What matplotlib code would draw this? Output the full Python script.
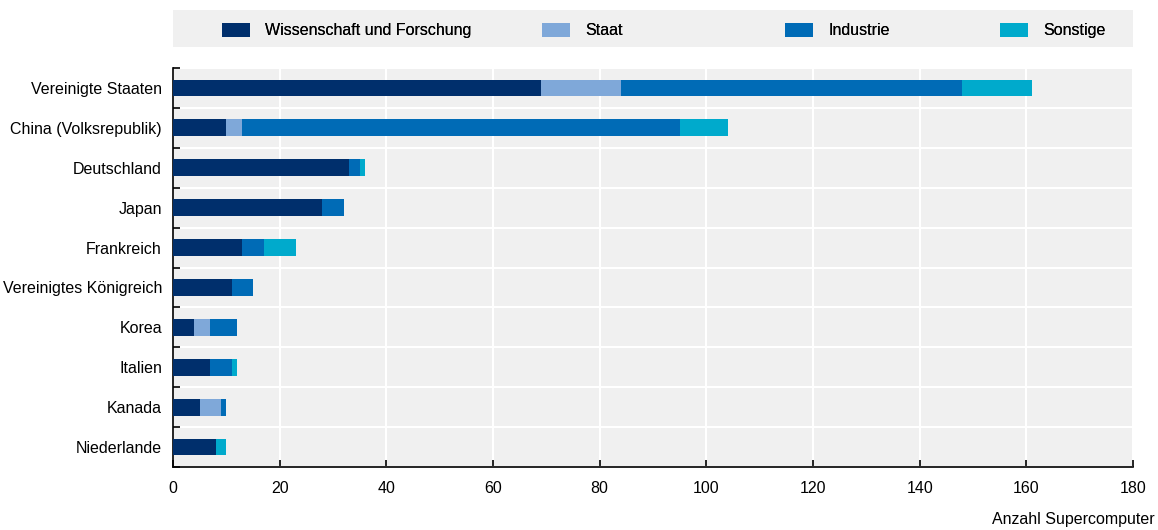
import matplotlib.pyplot as plt
import numpy as np
from matplotlib import font_manager
from matplotlib.patches import Rectangle, Patch

names = {f.name for f in font_manager.fontManager.ttflist}
font = 'Liberation Sans Narrow' if 'Liberation Sans Narrow' in names else 'Liberation Sans'
plt.rcParams['font.family'] = [font, 'DejaVu Sans']

countries = ['Vereinigte Staaten', 'China (Volksrepublik)', 'Deutschland', 'Japan',
             'Frankreich', 'Vereinigtes Königreich', 'Korea', 'Italien', 'Kanada',
             'Niederlande']
wissenschaft = [69, 10, 33, 28, 13, 11, 4, 7, 5, 8]
staat = [15, 3, 0, 0, 0, 0, 3, 0, 4, 0]
industrie = [64, 82, 2, 4, 4, 4, 5, 4, 1, 0]
sonstige = [13, 9, 1, 0, 6, 0, 0, 1, 0, 2]

series = [('Wissenschaft und Forschung', wissenschaft, '#002f6c'),
          ('Staat', staat, '#7fa8d9'),
          ('Industrie', industrie, '#006bb6'),
          ('Sonstige', sonstige, '#00aacc')]

W, H = 1158, 530
fig = plt.figure(figsize=(W/100, H/100), dpi=100)
ax = fig.add_axes([173/W, 1-467/H, 960/W, 399/H])
ax.set_facecolor('#f0f0f0')

y = np.arange(len(countries))
left = np.zeros(len(countries))
for name, vals, col in series:
    ax.barh(y, vals, left=left, height=0.42, color=col, label=name, zorder=3)
    left += np.array(vals)

ax.set_xlim(0, 180)
ax.set_ylim(len(countries) - 0.5, -0.5)
ax.set_xticks(range(0, 181, 20))
ax.set_yticks(y)
ax.set_yticklabels(countries)
ax.set_yticks(np.arange(-0.5, len(countries), 1), minor=True)
ax.grid(axis='x', color='white', linewidth=1.5, zorder=1)
ax.grid(axis='y', which='minor', color='white', linewidth=1.5, zorder=1)

for s in ['top', 'right']:
    ax.spines[s].set_visible(False)
ax.spines['left'].set_linewidth(1.2)
ax.spines['bottom'].set_linewidth(1.2)
ax.tick_params(axis='y', which='major', length=0, labelsize=11.5, pad=8)
ax.tick_params(axis='y', which='minor', direction='in', length=5, width=1.2)
ax.tick_params(axis='x', direction='in', length=5, width=1.2, labelsize=11.5, pad=10)

# legend strip across the top
fig.patches.append(Rectangle((173/W, 1-47/H), 960/W, 37/H, transform=fig.transFigure,
                             facecolor='#f0f0f0', edgecolor='none', zorder=0))
leg_x = [222, 542, 785, 1000]
for (name, vals, col), lx in zip(series, leg_x):
    lg = fig.legend(handles=[Patch(facecolor=col, label=name)], loc='center left',
                    bbox_to_anchor=(lx/W, 1-30.5/H), frameon=False, fontsize=11.5,
                    handlelength=1.75, handleheight=1.0, handletextpad=0.95,
                    borderpad=0, borderaxespad=0)
    fig.add_artist(lg)

fig.text(1155/W, 3/H, 'Anzahl Supercomputer', ha='right', va='bottom', fontsize=11.5)

fig.savefig('out.png', dpi=100)
